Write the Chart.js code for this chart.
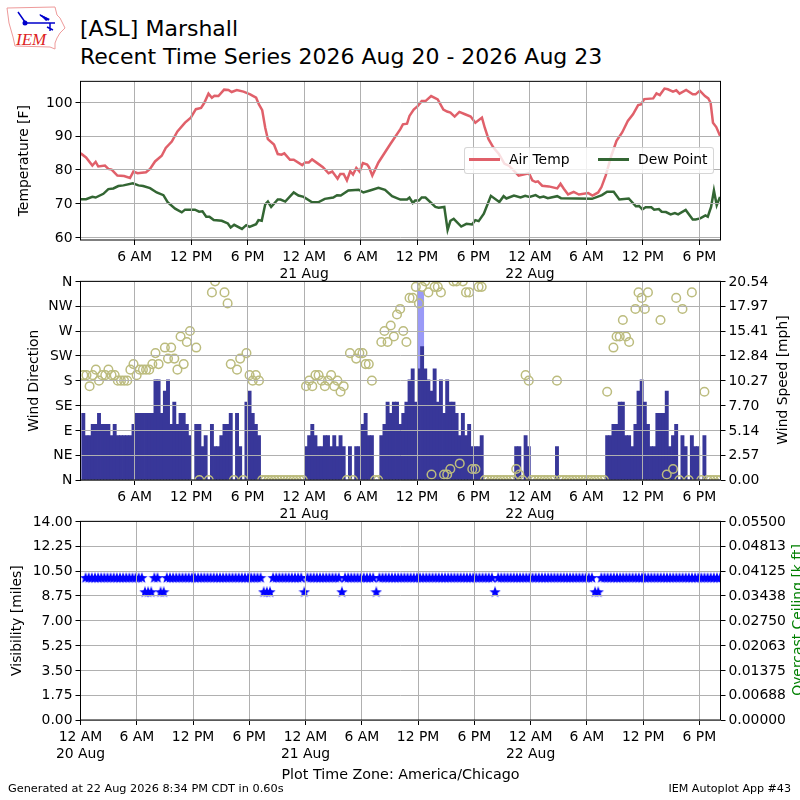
<!DOCTYPE html>
<html>
<head>
<meta charset="utf-8">
<title>[ASL] Marshall</title>
<script src="https://cdn.jsdelivr.net/npm/chart.js@4"></script>
<style>
  html, body { margin: 0; padding: 0; background: #fff; overflow: hidden; }
  body { width: 800px; height: 800px; position: relative; font-family: "DejaVu Sans", sans-serif; color: #000; }
  canvas { position: absolute; left: 0; }
  .txt { position: absolute; white-space: nowrap; }
  .turn { position: absolute; white-space: nowrap; font-size: 13.9px; transform: translate(-50%, -50%) rotate(-90deg); }
  #legend { position: absolute; left: 464px; top: 147px; width: 248px; height: 25px; background: rgba(255,255,255,.8); border: 1px solid rgba(204,204,204,.8); border-radius: 3px; font-size: 13.9px; }
  #legend i { position: absolute; top: 10px; width: 31px; height: 3px; }
  #legend span { position: absolute; top: 3px; }
</style>
</head>
<body>
<svg style="position:absolute;left:0;top:0" width="70" height="55">
  <path d="M7 8 L55 7 L57 15 L60 18 L65 28 L60 33 L57 38 L55 43 L55 49 L50 47 L15 46 L13 37 L9 23 Z" fill="none" stroke="#ee9a9a" stroke-width="1"/>
  <path d="M25 23 L55 23 M50 23 L50 31 M47 27 L53 30 M40 15 L49 20 M18 12 L25 22" stroke="#00c" stroke-width="1.5" fill="none"/>
  <path d="M39 14 L50 19 L46 21 Z" fill="#00c"/>
  <circle cx="25" cy="23" r="2.5" fill="#00c"/>
  <text x="16" y="45" font-family="Liberation Serif" font-style="italic" font-size="17" fill="#d22">IEM</text>
</svg>
<div class="txt" style="left:80px;top:15px;font-size:22px;line-height:27.5px">[ASL] Marshall<br>Recent Time Series 2026 Aug 20 - 2026 Aug 23</div>
<canvas id="tempChart" width="800" height="215" style="top:70px"></canvas>
<canvas id="windChart" width="800" height="250" style="top:270px"></canvas>
<canvas id="visChart" width="800" height="274" style="top:510px"></canvas>
<div id="legend"></div>
<div class="turn" style="left:782px;top:380px">Wind Speed [mph]</div>
<div class="turn" style="left:797px;top:620px;color:#008000">Overcast Ceiling [k ft]</div>
<div class="txt" style="left:8px;top:782px;font-size:11.3px">Generated at 22 Aug 2026 8:34 PM CDT in 0.60s</div>
<div class="txt" style="right:9px;top:782px;font-size:11.1px">IEM Autoplot App #43</div>
<script>
// hours since 12 AM 20 Aug
const tempHours = [.26,.83,1.5,1.85,2.13,2.84,3.2,3.55,4.16,4.87,5.5,5.86,6.3,7.2,7.63,8.16,8.87,9.3,9.94,10.54,11.35,11.96,12.5,13.05,13.4,13.84,14.2,14.47,14.9,15.5,15.96,16.3,16.85,17.56,18.27,18.9,19.2,19.55,19.87,20.15,20.8,21.2,21.6,21.9,22.5,22.9,23.8,24.1,24.5,24.85,25.4,26,26.6,27,27.56,27.85,28.2,28.55,28.9,29.2,29.55,29.9,30.25,30.7,30.9,31.25,31.9,33.15,34.23,34.5,34.94,35.2,35.65,36.07,36.5,36.9,37.5,38.2,38.8,39.2,39.55,40,40.5,41.1,41.7,42.2,42.9,43.2,43.6,44.1,44.7,45.3,45.75,46.8,47.9,48.25,48.6,48.85,49.3,50,50.9,51.25,51.6,52.05,52.65,53.2,54.2,54.65,55.25,55.6,56.05,56.65,57.2,57.8,58.4,58.95,59.5,59.8,60.15,61.1,61.45,61.8,62.3,62.65,63.2,63.55,63.9,64.6,65.3,65.6,66.05,66.6,66.95,67.2,67.45,67.8,68.2];
const airTemp = [84.9,83.7,81.3,82.4,81,81.3,80.3,80.1,78.3,78.2,77.6,79.5,79,79.3,80.3,82.5,84.2,86.5,88.4,91.4,94,95.5,98,98.4,99.9,102.6,101.4,102,101.9,103.8,103.7,103.1,103.7,103.2,102.4,101.4,99.4,97.7,92.5,89.1,87.5,84.7,84.5,84.9,83,83,81.4,82.2,82.2,83.1,82,80.8,79,79.5,77.4,78.8,78.8,76.9,79.6,78.6,80.6,79.5,82,81.6,80.8,78.3,82.2,87.6,92.1,93.5,93.7,96,97.9,98.9,100.4,100.4,101.9,100.9,97.9,97.3,97,95.8,97.2,96.5,95.8,94,95.5,92.5,89.1,86.7,84.7,81.8,81.3,78.3,79,76.9,76.4,76.6,75.3,75.1,74.5,75.9,74.4,72.7,73.5,72.7,73.1,72.4,73.3,74.9,78.3,84.2,88.6,91.1,94.5,96.5,99.2,99.4,101,101.2,102.7,102.2,104.1,103.9,103.2,103.6,102.6,103.7,102.4,102.4,103.5,101.9,101.2,99.9,94,92.7,90.1];
const dewHours = [.26,.83,1.5,1.85,2.67,3.2,3.73,4.26,4.8,5.8,6.4,6.9,7.63,8.34,9.05,9.5,10.3,11,11.35,12.4,12.85,13.2,13.6,13.94,14.4,15.25,15.9,16.2,16.57,17.4,17.85,18.2,18.9,19.15,19.5,19.87,20.15,20.5,21.2,21.5,22,22.9,23.4,23.95,24.85,25.5,26.2,27.1,27.5,27.9,28.7,29.8,30.3,31,31.9,32.6,33.35,34.23,34.94,35.2,35.55,35.8,36.2,36.5,36.9,37.95,38.3,38.9,39.25,39.55,39.9,40.7,41.25,41.85,42.2,42.55,43.1,43.85,44.75,45.2,45.5,46.3,47,47.5,47.95,48.6,49.05,49.45,49.9,50.9,51.3,53,54.6,55.65,56.2,56.9,57.5,58.5,59.25,59.6,59.95,60.3,60.9,61.2,61.7,62,62.45,62.95,63.4,63.75,64.55,65.3,65.6,66.1,66.65,66.9,67.25,67.55,67.85,68.2];
const dewPoint = [71.3,71.3,72,71.8,72.9,74.3,74.5,75.2,75.4,76,75.4,75.2,74.6,73.3,72.5,70.4,68.5,67.4,68.2,68.2,67.6,67.7,66.1,66.1,65.1,64.9,64.1,62.9,63.7,62.5,63.6,63.1,63.9,65.1,64.9,69.8,70.6,69,71.2,71.2,70.6,73.3,72.4,72,70.4,70.4,71.4,71.8,72.5,72.4,73.9,74.1,73.3,73.9,74.7,74.1,72.2,71.2,71.2,71.8,70.2,70.9,70.9,71.8,71.8,69,68.8,69,62.2,64.9,65.5,63.2,64,63.8,65.1,64.8,67,72.3,70.5,72.2,71.5,72.4,71.8,72.3,72,72.5,71.8,72.1,71.6,72.2,71.6,71.5,71.4,72.5,73.5,73.5,71.2,71.5,69.2,69.3,68.3,68.9,68.9,68.2,68.4,67.6,67.5,66.8,67.2,66.8,68.1,65.3,65.3,65.6,66.5,66.1,69,73.9,69.5,72];

// one entry per observation, every 20 minutes
const windSpeed = [
  6.9,4.6,4.6,5.75,5.75,6.9,5.75,5.75,5.75,4.6,5.75,4.6,4.6,4.6,4.6,4.6,5.75,6.9,6.9,6.9,
  6.9,6.9,6.9,10.36,10.36,6.9,9.2,10.36,5.75,8.05,5.75,6.9,6.9,5.75,4.6,0,5.75,5.75,3.45,4.6,
  0,5.75,3.45,3.45,4.6,5.75,5.75,6.9,0,6.9,3.45,0,8.05,9.2,6.9,5.75,4.6,0,0,0,
  0,0,0,0,0,0,0,0,0,0,0,3.45,4.6,5.75,4.6,3.45,3.45,4.6,4.6,3.45,
  4.6,3.45,4.6,3.45,0,3.45,0,3.45,3.45,5.75,6.9,4.6,4.6,0,0,4.6,5.75,8.05,6.9,8.05,
  8.05,5.75,6.9,8.05,10.36,11.5,8.05,11.5,13.8,11.5,10.36,9.2,11.5,8.05,10.36,6.9,10.36,8.05,8.05,6.9,
  4.6,6.9,4.6,5.75,3.45,3.45,3.45,4.6,0,0,0,0,0,0,0,0,0,0,3.45,3.45,
  0,4.6,3.45,0,0,0,0,0,0,0,0,3.45,0,0,0,0,0,0,0,0,
  0,0,0,0,0,0,0,4.6,4.6,5.75,5.75,8.05,8.05,4.6,4.6,3.45,5.75,9.2,10.36,8.05,
  5.75,3.45,3.45,6.9,6.9,6.9,9.2,3.45,4.6,5.75,0,4.6,3.45,0,4.6,3.45,3.45,0,4.6,0,
  0,0,0,0
];
const windDir = [
  190,190,170,190,200,180,190,190,200,190,190,180,180,180,180,200,210,190,200,200,
  200,200,210,230,210,null,240,220,240,220,200,260,210,250,270,null,240,0,null,null,
  0,340,360,null,null,340,320,210,0,200,220,0,230,190,180,190,180,0,0,0,
  0,0,0,0,0,0,0,0,0,0,0,170,180,170,190,190,180,170,180,190,
  170,180,160,170,0,230,0,220,230,230,210,210,180,0,0,250,270,250,280,260,
  300,310,270,250,330,330,350,320,350,360,340,10,350,350,340,10,10,20,360,360,
  30,360,340,340,20,20,350,350,0,0,0,0,0,0,0,0,0,0,20,10,
  0,190,180,0,0,0,0,0,0,0,0,180,0,0,0,0,0,0,0,0,
  0,0,0,0,0,0,0,160,null,240,260,260,290,260,250,null,310,340,330,310,
  340,null,null,null,290,null,10,null,20,330,0,310,null,0,340,null,null,0,160,0,
  0,0,0,0
];
const visibility = [
  10,10,10,10,10,10,10,10,10,10,10,10,10,10,10,10,10,10,10,9,
  9,9,10,10,9,9,10,10,10,10,10,10,10,10,10,10,10,10,10,10,
  10,10,10,10,10,10,10,10,10,10,10,10,10,10,10,10,10,9,9,9,
  10,10,10,10,10,10,10,10,10,10,9,10,10,10,10,10,10,10,10,10,
  10,10,9,10,10,10,10,10,10,10,10,10,10,9,10,10,10,10,10,10,
  10,10,10,10,10,10,10,10,10,10,10,10,10,10,10,10,10,10,10,10,
  10,10,10,10,10,10,10,10,10,10,10,9,10,10,10,10,10,10,10,10,
  10,10,10,10,10,10,10,10,10,10,10,10,10,10,10,10,10,10,10,10,
  10,10,10,9,9,10,10,10,10,10,10,10,10,10,10,10,10,10,10,10,
  10,10,10,10,10,10,10,10,10,10,10,10,10,10,10,10,10,10,10,10,
  10,10,10,10
];
const firstSample = 0.54;
const sampleHours = windSpeed.map((_, i) => firstSample + i / 3);
const gustHours = [sampleHours[107], sampleHours[108]];
const windGust = [19.5, 19.5];

const timeTicks = [6, 12, 18, 24, 30, 36, 42, 48, 54, 60, 66];
const timeLabels = ['6 AM', '12 PM', '6 PM', ['12 AM', '21 Aug'], '6 AM', '12 PM', '6 PM', ['12 AM', '22 Aug'], '6 AM', '12 PM', '6 PM'];
const tempTicks = [60, 70, 80, 90, 100];
const dirTicks = [0, 45, 90, 135, 180, 225, 270, 315, 360];
const dirLabels = ['N', 'NE', 'E', 'SE', 'S', 'SW', 'W', 'NW', 'N'];
const speedTicks = [0, 2.5675, 5.135, 7.7025, 10.27, 12.8375, 15.405, 17.9725, 20.54];
const speedLabels = ['0.00', '2.57', '5.14', '7.70', '10.27', '12.84', '15.41', '17.97', '20.54'];
const visTicks = [0, 1.75, 3.5, 5.25, 7, 8.75, 10.5, 12.25, 14];
const visLabels = ['0.00', '1.75', '3.50', '5.25', '7.00', '8.75', '10.50', '12.25', '14.00'];
const ceilTicks = [0, 0.006875, 0.01375, 0.020625, 0.0275, 0.034375, 0.04125, 0.048125, 0.055];
const ceilLabels = ['0.00000', '0.00688', '0.01375', '0.02063', '0.02750', '0.03438', '0.04125', '0.04813', '0.05500'];

const AIR_COLOR = '#e0606a';
const DEW_COLOR = '#336633';
const GRID_COLOR = '#b0b0b0';

Chart.defaults.font.family = '"DejaVu Sans", sans-serif';
Chart.defaults.font.size = 13.9;
Chart.defaults.color = '#000';
Chart.defaults.animation = false;
Chart.defaults.devicePixelRatio = 1;

// matplotlib style box around each panel
const framePlugin = {
  id: 'frame',
  afterDraw(chart) {
    const a = chart.chartArea, ctx = chart.ctx;
    ctx.save();
    ctx.strokeStyle = '#000';
    ctx.lineWidth = 1;
    ctx.strokeRect(a.left, a.top, a.right - a.left, a.bottom - a.top);
    ctx.restore();
  }
};

// x axis shared by the three panels
function timeAxis(min, ticks, labels, height, title) {
  return {
    type: 'linear', min: min, max: 68.25, offset: false,
    afterBuildTicks: s => { s.ticks = ticks.map(v => ({ value: v })); },
    afterFit: s => { s.height = height; },
    grid: { color: GRID_COLOR, z: 1, tickColor: '#000', tickLength: 5, offset: false },
    border: { display: false },
    ticks: {
      autoSkip: false, maxRotation: 0, padding: 4,
      font: { lineHeight: 1.2 },
      callback: v => labels[ticks.indexOf(v)]
    },
    title: title ? { display: true, text: title, padding: 0, font: { size: 14.3 } } : { display: false }
  };
}

// y axis with a fixed width and listed ticks
function valueAxis(pos, min, max, ticks, labels, title, titlePad, onChart) {
  return {
    type: 'linear', position: pos, min: min, max: max,
    afterBuildTicks: s => { s.ticks = ticks.map(v => ({ value: v })); },
    afterFit: s => { s.width = pos === 'left' ? 80.5 : 79.5; },
    grid: { color: GRID_COLOR, z: 1, tickColor: '#000', tickLength: 5, drawOnChartArea: onChart },
    border: { display: false },
    ticks: { autoSkip: false, padding: 3, labelOffset: 0.6, callback: v => labels[ticks.indexOf(v)] },
    title: title ? { display: true, text: title, padding: { top: titlePad, bottom: 0 } } : { display: false }
  };
}

function points(xs, ys) {
  return xs.map((x, i) => ({ x: x, y: ys[i] }));
}

function starImage(size, color) {
  const c = document.createElement('canvas');
  c.width = c.height = size;
  const ctx = c.getContext('2d'), r = size / 2;
  ctx.beginPath();
  for (let i = 0; i < 10; i++) {
    const rad = i % 2 ? r * 0.42 : r;
    const a = -Math.PI / 2 + i * Math.PI / 5;
    ctx.lineTo(r + rad * Math.cos(a), r + rad * Math.sin(a));
  }
  ctx.closePath();
  ctx.fillStyle = color;
  ctx.fill();
  return c;
}

new Chart(document.getElementById('tempChart'), {
  type: 'line',
  data: {
    datasets: [
      { label: 'Air Temp', data: points(tempHours, airTemp), borderColor: AIR_COLOR, borderWidth: 2.5, pointRadius: 0, tension: 0 },
      { label: 'Dew Point', data: points(dewHours, dewPoint), borderColor: DEW_COLOR, borderWidth: 2.5, pointRadius: 0, tension: 0 }
    ]
  },
  options: {
    responsive: false,
    layout: { padding: { top: 10, right: 79.5, left: 0, bottom: 0 } },
    plugins: { legend: { display: false }, tooltip: { enabled: false } },
    scales: {
      x: timeAxis(0.24, timeTicks, timeLabels, 45),
      y: valueAxis('left', 59.2, 106.26, tempTicks, tempTicks.map(String), 'Temperature [F]', 16.5, true)
    }
  },
  plugins: [framePlugin]
});

new Chart(document.getElementById('windChart'), {
  type: 'bar',
  data: {
    datasets: [
      { type: 'scatter', label: 'Wind Direction', data: points(sampleHours, windDir), yAxisID: 'y', order: 0,
        pointRadius: 4.3, borderColor: '#bcbc7e', backgroundColor: 'rgba(0,0,0,0)', borderWidth: 1.5 },
      { label: 'Wind Speed', data: points(sampleHours, windSpeed), yAxisID: 'ySpeed', order: 1, grouped: false,
        backgroundColor: '#383799', borderWidth: 0, barThickness: 3.25 },
      { label: 'Wind Gust', data: points(gustHours, windGust), yAxisID: 'ySpeed', order: 2, grouped: false,
        backgroundColor: '#9a9af7', borderWidth: 0, barThickness: 3.25 }
    ]
  },
  options: {
    responsive: false,
    layout: { padding: { top: 10, right: 0, left: 0, bottom: 0 } },
    plugins: { legend: { display: false }, tooltip: { enabled: false } },
    scales: {
      x: timeAxis(0.24, timeTicks, timeLabels, 40),
      y: valueAxis('left', 0, 360, dirTicks, dirLabels, 'Wind Direction', 26.5, true),
      ySpeed: valueAxis('right', 0, 20.54, speedTicks, speedLabels, null, 0, false)
    }
  },
  plugins: [framePlugin]
});

new Chart(document.getElementById('visChart'), {
  type: 'scatter',
  data: {
    datasets: [
      { label: 'Visibility', data: points(sampleHours, visibility), yAxisID: 'y',
        pointStyle: starImage(12, '#0000ff') }
    ]
  },
  options: {
    responsive: false,
    layout: { padding: { top: 10, right: 0, left: 0, bottom: 0 } },
    plugins: { legend: { display: false }, tooltip: { enabled: false } },
    scales: {
      x: timeAxis(0, [0].concat(timeTicks), [['12 AM', '20 Aug']].concat(timeLabels), 64, 'Plot Time Zone: America/Chicago'),
      y: valueAxis('left', 0, 14, visTicks, visLabels, 'Visibility [miles]', 9.5, true),
      yCeil: valueAxis('right', 0, 0.055, ceilTicks, ceilLabels, null, 0, false)
    }
  },
  plugins: [framePlugin]
});

// legend box sits over the lines, like the original
const legendEntries = [
  { label: 'Air Temp', color: AIR_COLOR, swatch: 4, text: 44 },
  { label: 'Dew Point', color: DEW_COLOR, swatch: 133, text: 173 }
];
document.getElementById('legend').innerHTML = legendEntries.map(e =>
  `<i style="left:${e.swatch}px;background:${e.color}"></i><span style="left:${e.text}px">${e.label}</span>`
).join('');
</script>
</body>
</html>
